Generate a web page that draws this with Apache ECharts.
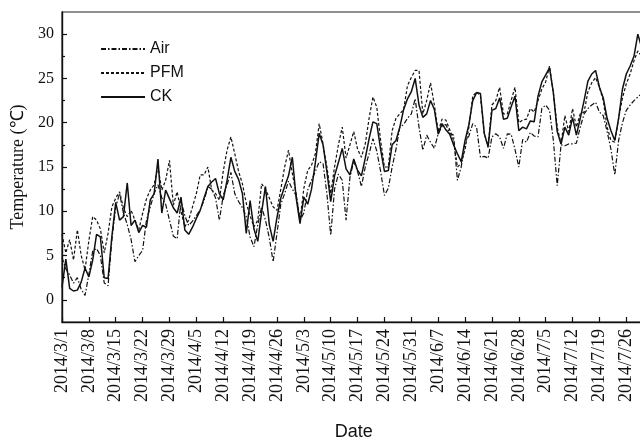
<!DOCTYPE html>
<html><head><meta charset="utf-8">
<script src="https://cdn.jsdelivr.net/npm/echarts@6/dist/echarts.min.js"></script>
<style>html,body{margin:0;padding:0;background:#fff}#c{width:640px;height:441px}</style>
</head><body><div id="c"></div>
<script>
// categories: daily dates 2014/3/1 .. 2014/7/31
var startDate = [2014, 3, 1];
var dayCount = 153;
var dates = [];
(function(){
  var d = new Date(startDate[0], startDate[1]-1, startDate[2]);
  for (var i = 0; i < dayCount; i++) {
    dates.push(d.getFullYear() + '/' + (d.getMonth()+1) + '/' + d.getDate());
    d.setDate(d.getDate()+1);
  }
})();

var airValues = [4.8,3.5,2.8,1.9,2.5,1.2,0.5,2.9,5.5,5.8,
 5.0,1.9,1.6,6.8,10.5,12.0,9.8,8.5,6.8,4.3,
 5.0,5.6,9.0,10.5,12.0,13.0,11.5,10.8,9.0,7.2,
 6.9,11.25,9.5,8.4,8.9,9.5,10.2,11.2,12.8,12.5,
 11.5,9.0,11.8,13.0,14.4,12.0,11.1,10.4,9.4,7.1,
 6.0,8.5,10.5,9.0,7.0,4.3,7.5,10.8,12.0,13.4,
 12.5,11.8,9.0,9.8,12.4,13.5,14.5,15.6,15.4,12.0,
 7.3,12.5,14.2,13.5,9.0,13.8,15.7,14.5,12.8,15.0,
 16.5,18.2,16.8,14.5,11.8,12.6,15.0,17.0,19.5,19.8,
 20.5,21.0,22.7,19.5,16.9,18.6,17.8,17.1,18.75,19.6,
 19.8,18.8,18.6,13.5,15.0,17.8,18.5,19.9,19.5,16.1,
 16.2,16.0,18.4,18.75,18.4,17.1,18.75,18.7,17.0,15.0,
 18.1,17.8,18.9,18.5,18.4,21.6,22.0,21.4,18.0,12.9,
 17.5,17.4,17.6,17.6,17.7,19.5,21.0,21.6,22.0,22.3,
 21.2,20.8,19.0,17.0,14.1,18.0,20.0,21.4,22.0,22.5,
 22.9,23.3,23.6];

var pfmValues = [7.4,5.3,6.8,4.5,7.9,5.0,3.4,6.7,9.4,9.0,
 8.0,5.3,7.5,10.5,11.5,12.2,10.4,9.4,10.1,9.0,
 7.9,9.75,11.4,12.4,13.0,15.0,12.4,13.5,15.75,10.7,
 12.2,10.0,8.25,9.0,10.5,12.0,14.1,14.1,15.0,12.4,
 12.0,11.25,14.5,16.9,18.4,16.5,14.5,13.1,10.9,9.5,
 8.25,9.0,13.1,12.5,11.5,10.5,10.1,12.5,15.0,16.9,
 14.25,12.0,9.0,12.6,14.6,15.2,16.5,19.9,17.6,15.0,
 12.0,15.0,17.5,19.5,16.0,17.5,19.0,17.0,16.1,17.6,
 20.5,22.9,21.75,18.0,15.0,15.0,19.1,20.5,21.0,21.5,
 24.2,25.1,25.9,25.9,21.0,22.5,24.5,22.0,19.0,20.4,
 20.3,19.2,18.0,15.0,15.4,17.0,19.5,23.0,23.5,23.0,
 18.8,17.2,22.0,22.5,24.0,21.0,21.0,22.5,24.0,20.0,
 20.3,20.4,21.6,21.2,22.5,23.8,24.6,26.4,23.3,19.5,
 17.6,20.8,19.0,21.6,19.5,21.0,21.2,23.5,24.5,25.1,
 24.0,22.5,19.5,18.0,17.8,20.5,22.8,24.4,25.5,27.0,
 28.1,27.5,28.0];

var ckValues = [1.4,4.6,1.3,1.0,1.1,2.0,3.6,2.6,4.5,7.4,
 7.1,2.5,2.4,7.2,11.0,9.0,9.4,13.2,8.4,9.0,
 7.6,8.4,8.2,11.3,12.0,15.9,9.8,12.4,11.4,10.4,
 9.8,11.6,7.9,7.4,8.2,9.2,10.1,11.5,12.8,13.3,
 13.7,12.0,11.3,13.5,16.1,14.5,13.6,12.0,7.5,11.2,
 8.0,6.6,9.9,12.8,8.5,6.6,9.3,11.5,12.8,14.0,
 16.1,11.5,8.6,11.6,10.8,12.5,15.5,18.8,17.5,14.5,
 11.1,14.0,15.5,17.1,14.8,14.1,15.9,14.6,14.0,16.0,
 18.2,20.1,19.9,17.0,14.5,14.6,17.5,18.0,19.5,21.5,
 22.7,23.5,25.0,22.0,20.6,21.0,22.5,21.5,18.7,19.9,
 19.2,18.7,17.5,16.5,15.6,18.0,19.8,22.5,23.4,23.3,
 18.8,17.3,21.4,21.6,22.8,20.4,20.5,21.8,23.0,19.1,
 19.5,19.3,20.2,20.1,23.0,24.6,25.4,26.2,23.4,19.0,
 17.6,19.5,18.6,20.6,18.6,20.5,22.5,24.7,25.5,25.9,
 24.0,22.8,20.5,19.1,18.0,20.5,23.8,25.5,26.4,27.5,
 30.0,28.5,28.0];

var yLabelValues = [0, 5, 10, 15, 20, 25, 30];
var yMinorTicks = [2.5, 7.5, 12.5, 17.5, 22.5, 27.5];

var serif = '"Liberation Serif","Times New Roman",serif';
var sans = '"Liberation Sans",Arial,sans-serif';
var ink = '#111';

var chart = echarts.init(document.getElementById('c'), null, {renderer: 'canvas'});
chart.setOption({
  backgroundColor: '#fff',
  animation: false,
  grid: {left: 62, top: 12, width: 583.5, height: 310, outerBoundsMode: 'none', containLabel: false,
         show: true, borderColor: '#222', borderWidth: 1.2, backgroundColor: 'transparent'},
  legend: {
    orient: 'vertical', left: 95, top: 36, itemWidth: 44, itemHeight: 14, itemGap: 8,
    itemStyle: {opacity: 0},
    textStyle: {fontFamily: sans, fontSize: 16, color: ink, padding: [0,0,0,0]},
    data: ['Air', 'PFM', 'CK']
  },
  xAxis: {
    type: 'category', data: dates, boundaryGap: false,
    name: 'Date', nameLocation: 'middle', nameGap: 101,
    nameTextStyle: {fontFamily: sans, fontSize: 18, color: ink},
    axisLine: {onZero: false, lineStyle: {color: ink, width: 1.4}},
    axisTick: {interval: 6, inside: true, length: 5, lineStyle: {color: ink, width: 1.2}},
    axisLabel: {interval: 6, rotate: 90, fontFamily: serif, fontSize: 18, color: ink, margin: 7},
    splitLine: {show: false}
  },
  yAxis: [{
    type: 'value', min: -2.5, max: 32.5, interval: 2.5,
    name: 'Temperature (\u2103)', nameLocation: 'middle', nameGap: 33,
    nameTextStyle: {fontFamily: serif, fontSize: 18, color: ink},
    axisLine: {show: true, lineStyle: {color: ink, width: 1.4}},
    axisTick: {show: true, inside: true, length: 5, customValues: yLabelValues, lineStyle: {color: ink, width: 1.2}},
    axisLabel: {customValues: yLabelValues, fontFamily: serif, fontSize: 16, color: ink, margin: 8},
    splitLine: {show: false}
  }, {
    type: 'value', min: -2.5, max: 32.5, interval: 2.5, position: 'left',
    axisLine: {show: false},
    axisTick: {show: true, inside: true, length: 3, customValues: yMinorTicks, lineStyle: {color: ink, width: 1.2}},
    axisLabel: {show: false},
    splitLine: {show: false}
  }],
  series: [
    {name: 'Air', type: 'line', data: airValues, symbol: 'none', yAxisIndex: 0,
     lineStyle: {color: ink, width: 1.2, type: [5, 2, 1.5, 2]}, itemStyle: {color: ink}},
    {name: 'PFM', type: 'line', data: pfmValues, symbol: 'none', yAxisIndex: 0,
     lineStyle: {color: ink, width: 1.2, type: [3, 2]}, itemStyle: {color: ink}},
    {name: 'CK', type: 'line', data: ckValues, symbol: 'none', yAxisIndex: 0,
     lineStyle: {color: ink, width: 1.5, type: 'solid'}, itemStyle: {color: ink}}
  ]
});
</script></body></html>
